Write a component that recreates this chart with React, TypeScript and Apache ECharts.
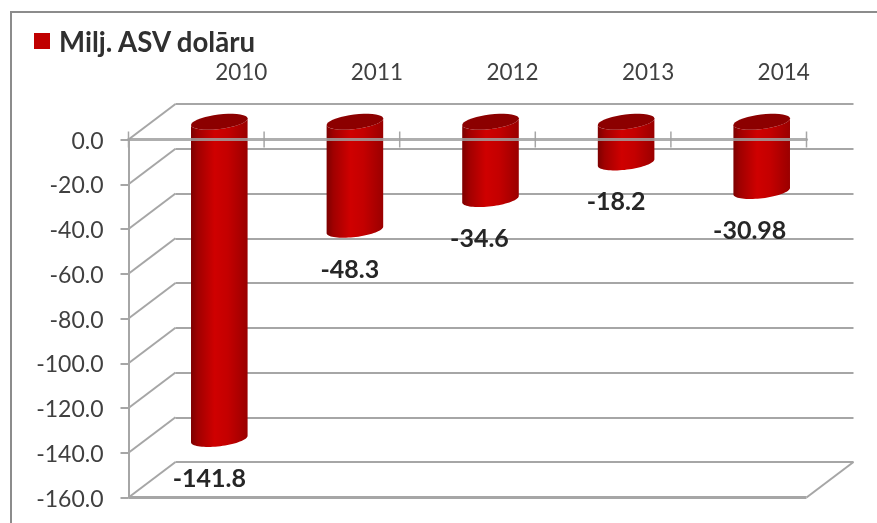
import React, { useEffect, useRef } from "react";
import * as echarts from "echarts";

const seriesName = "Milj. ASV dolāru";
const categories = ["2010", "2011", "2012", "2013", "2014"];
const values = [-141.8, -48.3, -34.6, -18.2, -30.98];
const valueLabels = ["-141.8", "-48.3", "-34.6", "-18.2", "-30.98"];
const yTicks = [0, -20, -40, -60, -80, -100, -120, -140, -160];

const FONT = "Lato, 'Open Sans', sans-serif";
const GRID_L = 128.5;
const GRID_T = 139.5;
const GRID_W = 678;
const GRID_H = 358;
const DEPTH_X = 47;
const DEPTH_Y = -35.5;
const LINE = "#a6a6a6";
const labelNudgeX = [-10, -5, -11, -10, -12];

// Point on the slanted rim ellipse of a cylinder; deg runs 0..360, screen clockwise from the right
const rim = (cx: number, cy: number, deg: number): number[] => {
  const rx = 28.5;
  const ry = 7.2;
  const tilt = (-7 * Math.PI) / 180;
  const a = (deg * Math.PI) / 180;
  const px = rx * Math.cos(a);
  const py = ry * Math.sin(a);
  return [cx + px * Math.cos(tilt) - py * Math.sin(tilt), cy + px * Math.sin(tilt) + py * Math.cos(tilt)];
};
const arcPoints = (cx: number, cy: number, from: number, to: number): number[][] => {
  const pts: number[][] = [];
  const n = 36;
  for (let i = 0; i <= n; i++) pts.push(rim(cx, cy, from + ((to - from) * i) / n));
  return pts;
};

const buildOption = () => ({
  animation: false,
  backgroundColor: "#ffffff",
  legend: {
    show: true,
    left: 34,
    top: 27,
    padding: 0,
    itemWidth: 16,
    itemHeight: 16,
    icon: "rect",
    data: [{ name: seriesName, itemStyle: { color: "#c00000" } }],
    textStyle: {
      fontFamily: FONT,
      fontWeight: "bold",
      fontSize: 27.6,
      color: "#303030",
      padding: [0, 0, 0, 4],
    },
  },
  graphic: [
    {
      type: "polyline",
      silent: true,
      shape: { points: [[11, 523], [11, 12], [877, 12]] },
      style: { fill: "none", stroke: "#8c8c8c", lineWidth: 2 },
    },
  ],
  grid: [
    { left: GRID_L, top: GRID_T, width: GRID_W, height: GRID_H },
    { left: GRID_L + DEPTH_X, top: GRID_T + DEPTH_Y, width: GRID_W, height: GRID_H },
  ],
  xAxis: [
    {
      type: "category",
      gridIndex: 0,
      position: "top",
      data: categories,
      z: 6,
      axisLine: { show: true, lineStyle: { color: "rgba(160,160,160,0.85)", width: 3 } },
      axisTick: { show: false },
      axisLabel: { show: false },
      splitLine: { show: false },
    },
    {
      type: "category",
      gridIndex: 1,
      position: "top",
      data: categories,
      axisLine: { show: false },
      axisTick: { show: false },
      axisLabel: {
        show: true,
        interval: 0,
        margin: 21,
        padding: [0, 4, 0, 0],
        fontFamily: FONT,
        fontSize: 22.5,
        color: "#404040",
      },
      splitLine: { show: false },
    },
  ],
  yAxis: [
    {
      type: "value",
      gridIndex: 0,
      min: -160,
      max: 0,
      interval: 20,
      axisLine: { show: true, lineStyle: { color: LINE, width: 2 } },
      axisTick: { show: true, length: 8, lineStyle: { color: LINE, width: 2 } },
      axisLabel: {
        show: true,
        margin: 25,
        padding: [4, 0, 0, 0],
        fontFamily: FONT,
        fontSize: 23,
        color: "#404040",
        formatter: (v: number) => v.toFixed(1),
      },
      splitLine: { show: false },
    },
    {
      type: "value",
      gridIndex: 1,
      min: -160,
      max: 0,
      interval: 20,
      axisLine: { show: false },
      axisTick: { show: false },
      axisLabel: { show: false },
      splitLine: { show: true, lineStyle: { color: LINE, width: 2 } },
    },
  ],
  series: [
    {
      type: "custom",
      name: "walls",
      coordinateSystem: "cartesian2d",
      xAxisIndex: 0,
      yAxisIndex: 0,
      z: 1,
      silent: true,
      data: yTicks.map((v) => [categories[0], v]),
      renderItem: (_p: any, api: any) => {
        const v = api.value(1);
        const half = api.size([1, 0])[0] / 2;
        const c = api.coord([api.value(0), v]);
        const x0 = c[0] - half;
        const children: any[] = [
          {
            type: "line",
            shape: { x1: x0, y1: c[1], x2: x0 + DEPTH_X, y2: c[1] + DEPTH_Y },
            style: { stroke: LINE, lineWidth: 2 },
          },
        ];
        if (v === -160) {
          const x1 = x0 + half * 2 * categories.length;
          children.push(
            {
              type: "line",
              shape: { x1: x0, y1: c[1], x2: x1, y2: c[1] },
              style: { stroke: LINE, lineWidth: 3 },
            },
            {
              type: "line",
              shape: { x1, y1: c[1], x2: x1 + DEPTH_X, y2: c[1] + DEPTH_Y },
              style: { stroke: LINE, lineWidth: 2 },
            },
          );
        }
        return { type: "group", children };
      },
    },
    {
      type: "custom",
      name: "ticks",
      coordinateSystem: "cartesian2d",
      xAxisIndex: 0,
      yAxisIndex: 0,
      z: 1,
      silent: true,
      data: categories.map((c) => [c, 0]),
      renderItem: (p: any, api: any) => {
        const half = api.size([1, 0])[0] / 2;
        const c = api.coord([api.value(0), 0]);
        const lines: any[] = [];
        const push = (x: number) =>
          lines.push({
            type: "line",
            shape: { x1: x, y1: c[1] - 8, x2: x, y2: c[1] + 8 },
            style: { stroke: LINE, lineWidth: 1.5 },
          });
        push(c[0] + half);
        if (p.dataIndex === 0) push(c[0] - half);
        return { type: "group", children: lines };
      },
    },
    {
      type: "custom",
      name: seriesName,
      coordinateSystem: "cartesian2d",
      xAxisIndex: 0,
      yAxisIndex: 0,
      z: 3,
      itemStyle: { color: "#c00000" },
      data: categories.map((c, i) => [c, values[i]]),
      renderItem: (p: any, api: any) => {
        const top = api.coord([api.value(0), 0]);
        const bot = api.coord([api.value(0), api.value(1)]);
        const cx = top[0] + DEPTH_X / 2 - 0.5;
        const yt = top[1] + DEPTH_Y / 2;
        const yb = bot[1] + DEPTH_Y / 2;
        const body = new echarts.graphic.LinearGradient(0, 0, 1, 0, [
          { offset: 0, color: "#7d0000" },
          { offset: 0.12, color: "#a00000" },
          { offset: 0.42, color: "#cf0000" },
          { offset: 0.65, color: "#c40000" },
          { offset: 1, color: "#9a0000" },
        ]);
        const bodyPts = [...arcPoints(cx, yb, 180, 0), ...arcPoints(cx, yt, 0, 180)];
        return {
          type: "group",
          children: [
            { type: "polygon", shape: { points: bodyPts }, style: { fill: body } },
            { type: "polygon", shape: { points: arcPoints(cx, yt, 0, 360) }, style: { fill: "#8c0000" } },
            {
              type: "text",
              z2: 20,
              style: {
                x: cx + labelNudgeX[p.dataIndex],
                y: bot[1] + 20,
                text: valueLabels[p.dataIndex],
                align: "center",
                verticalAlign: "middle",
                fontFamily: FONT,
                fontWeight: "bold",
                fontSize: 25,
                fill: "#262626",
              },
            },
          ],
        };
      },
    },
  ],
});

export default function App() {
  const ref = useRef<HTMLDivElement>(null);
  useEffect(() => {
    if (!ref.current) return;
    const chart = echarts.init(ref.current, undefined, { renderer: "svg" });
    chart.setOption(buildOption() as any);
    return () => chart.dispose();
  }, []);
  return (
    <div
      ref={ref}
      style={{ position: "fixed", left: 0, top: 0, width: 877, height: 523, filter: "blur(0.45px)" }}
    />
  );
}
